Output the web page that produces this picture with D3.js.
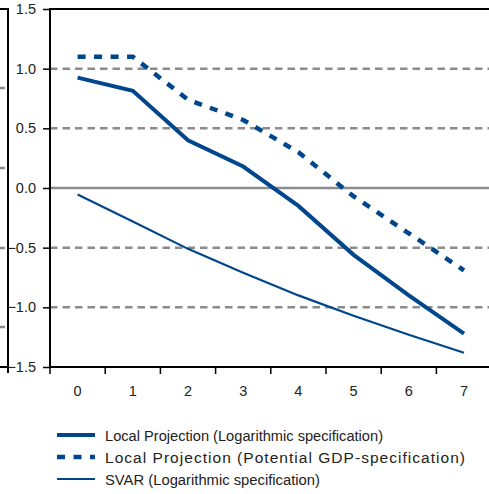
<!DOCTYPE html>
<html>
<head>
<meta charset="utf-8">
<script src="https://cdn.jsdelivr.net/npm/d3@7"></script>
<style>
    body { margin: 0; background: #fff; }
    text { font-family: "Liberation Sans Narrow", "Arial Narrow", "Liberation Sans", sans-serif; fill: #222; }
</style>
</head>
<body>
<svg id="chart"></svg>
<script>
// horizons (years after the shock)
const horizons = [0, 1, 2, 3, 4, 5, 6, 7];
const yTicks = [1.5, 1.0, 0.5, 0.0, -0.5, -1.0, -1.5];

// impulse responses
const lpLog = [0.925, 0.815, 0.40, 0.18, -0.15, -0.56, -0.90, -1.22];
const lpPotential = [1.10, 1.10, 0.74, 0.57, 0.30, -0.07, -0.38, -0.69];
const svarLog = [-0.055, -0.28, -0.51, -0.71, -0.90, -1.07, -1.23, -1.38];

const seriesNames = [
    'Local Projection (Logarithmic specification)',
    'Local Projection (Potential GDP-specification)',
    'SVAR (Logarithmic specification)'
];

const blue = '#00468c',
      grey = '#8c8c8c';

class lineChart {
    constructor() {
        this.width = 489;
        this.height = 494;
        this.margin = {top: 9, left: 50, bottom: 367};
        this.bandWidth = 55.2;
    }

    create_chart(svgElement) {
        this.svg = d3.select(svgElement)
            .attr('width', this.width)
            .attr('height', this.height);

        this.x = d3.scaleBand()
            .domain(horizons)
            .range([this.margin.left, this.margin.left + horizons.length * this.bandWidth])
            .padding(0);

        this.y = d3.scaleLinear()
            .domain([-1.5, 1.5])
            .range([this.margin.bottom, this.margin.top]);

        return this;
    }

    // bit of the neighbouring panel that is cut off on the left
    add_left_panel() {
        const y = this.y;
        const g = this.svg.append('g');
        [88, 168, 248, 327].forEach(function(v) {
            g.append('line')
                .attr('x1', 0).attr('x2', 5)
                .attr('y1', v).attr('y2', v)
                .attr('stroke', grey).attr('stroke-width', 2.5);
        });
        g.append('path')
            .attr('d', 'M0,' + y(1.5) + 'H8V' + y(-1.5) + 'H0M8,' + y(-1.5) + 'v6')
            .attr('fill', 'none')
            .attr('stroke', '#000')
            .attr('stroke-width', 2);
    }

    add_grid() {
        const x = this.x, y = this.y;
        const x0 = x.range()[0], x1 = x.range()[1];
        this.svg.append('g')
            .selectAll('line')
            .data(yTicks.filter(function(d) { return Math.abs(d) < 1.5; }))
            .enter().append('line')
            .attr('x1', x0).attr('x2', x1)
            .attr('y1', function(d) { return y(d); })
            .attr('y2', function(d) { return y(d); })
            .attr('stroke', grey)
            .attr('stroke-width', 2.5)
            .attr('stroke-dasharray', function(d) { return d === 0 ? null : '7.5,5'; });
    }

    add_axes() {
        const x = this.x, y = this.y;
        const left = this.margin.left;

        // y axis (outer ticks, labels right aligned)
        const axisY = this.svg.append('g')
            .attr('transform', 'translate(' + left + ',0)')
            .call(d3.axisLeft(y).tickValues(yTicks).tickFormat(d3.format('.1f')).tickSize(7).tickPadding(7));
        axisY.select('.domain').remove();
        axisY.selectAll('.tick line').attr('stroke', '#000').attr('stroke-width', 1.5);
        axisY.selectAll('.tick text').attr('font-size', 14.5).attr('fill', '#222')
            .attr('font-family', null);

        // x axis: ticks between bands, labels centred
        const bounds = horizons.map(function(d) { return x(d); }).concat([x.range()[1]]);
        const axisX = this.svg.append('g');
        axisX.selectAll('line')
            .data(bounds)
            .enter().append('line')
            .attr('x1', function(d) { return d; }).attr('x2', function(d) { return d; })
            .attr('y1', y(-1.5)).attr('y2', y(-1.5) + 7)
            .attr('stroke', '#000').attr('stroke-width', 1.5);
        axisX.selectAll('text')
            .data(horizons)
            .enter().append('text')
            .attr('x', function(d) { return x(d) + x.bandwidth() / 2; })
            .attr('y', y(-1.5) + 29)
            .attr('text-anchor', 'middle')
            .attr('font-size', 14.5)
            .text(function(d) { return d; });

        // frame: left, top, bottom
        const x1 = x.range()[1];
        this.svg.append('path')
            .attr('d', 'M' + x1 + ',' + y(1.5) + 'H' + left + 'V' + y(-1.5) + 'H' + x1)
            .attr('fill', 'none')
            .attr('stroke', '#000')
            .attr('stroke-width', 2);
    }

    add_line(values, width, dash) {
        const x = this.x, y = this.y;
        const line = d3.line()
            .x(function(d, i) { return x(horizons[i]) + x.bandwidth() / 2; })
            .y(function(d) { return y(d); });

        this.svg.append('path')
            .datum(values)
            .attr('d', line)
            .attr('fill', 'none')
            .attr('stroke', blue)
            .attr('stroke-width', width)
            .attr('stroke-dasharray', dash);
    }

    add_legend(styles) {
        const g = this.svg.append('g');
        const top = 435, step = 22;
        const lengths = [278, 360, 215];
        // the middle entry is letter-spaced in the original
        const adjust = ['spacingAndGlyphs', 'spacing', 'spacingAndGlyphs'];

        styles.forEach(function(s, i) {
            const yy = top + i * step;
            g.append('line')
                .attr('x1', 57).attr('x2', 95)
                .attr('y1', yy).attr('y2', yy)
                .attr('stroke', blue)
                .attr('stroke-width', s.width)
                .attr('stroke-dasharray', s.dash);
            g.append('text')
                .attr('x', 105)
                .attr('y', yy + 6)
                .attr('font-size', 15.5)
                .attr('textLength', lengths[i])
                .attr('lengthAdjust', adjust[i])
                .text(seriesNames[i]);
        });
    }
}

const styles = [
    {width: 4, dash: null},
    {width: 4.5, dash: '8,8.5'},
    {width: 2.2, dash: null}
];

const chart = new lineChart().create_chart('#chart');
chart.add_left_panel();
chart.add_grid();
chart.add_line(lpLog, styles[0].width, styles[0].dash);
chart.add_line(lpPotential, styles[1].width, styles[1].dash);
chart.add_line(svarLog, styles[2].width, styles[2].dash);
chart.add_axes();
chart.add_legend(styles);
</script>
</body>
</html>
